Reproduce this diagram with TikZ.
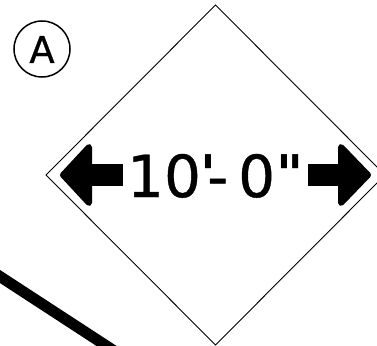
\documentclass[tikz,border=0pt]{standalone}
\usepackage{fontspec}
\newfontfamily\dimfont{DejaVu Sans}[Ligatures=NoCommon,FakeBold=0.7]
\newfontfamily\markfont{DejaVu Sans Bold}[Ligatures=NoCommon]
\tikzset{
    dimtext/.style={inner sep=0pt, font=\dimfont\fontsize{58}{58}\selectfont},
    marktext/.style={inner sep=0pt, font=\markfont\fontsize{52}{52}\selectfont},
    dimhead/.style={draw=black, fill=black, line width=6pt, line join=round},
}
\begin{document}
\begin{tikzpicture}[x=1pt,y=-1pt]
    \useasboundingbox (0,0) rectangle (377,345);
    \clip (0,0) rectangle (377,345);

    \pgfmathsetmacro{\midy}{175}

    \draw[black, line width=0.9pt] (46,\midy) -- (215.5,5) -- (385,\midy) -- (215.5,345) -- cycle;

    % heavy line, lower left
    \draw[black, line width=11pt] (-10,270) -- (125,358);

    % tag
    \node[draw=black, circle, line width=1.5pt, minimum size=56pt, inner sep=0pt] (tagA) at (42,49) {};
    \node[inner sep=0pt, font=\dimfont\fontsize{37}{37}\selectfont] (tagtext) at (42,49.5) {A};

    % arrows
    \draw[dimhead] (89,147) -- (63,\midy) -- (89,203) -- cycle;
    \fill[black] (85,164) rectangle (123,186);
    \draw[dimhead] (341,147) -- (368,\midy) -- (341,203) -- cycle;
    \fill[black] (308,164) rectangle (345,186);

    % dimension text
    \node[dimtext, anchor=base west] (feet) at (127,197) {10};
    \node[marktext, anchor=base west] (mark) at (200,192) {\char"0027};
    \node[dimtext, anchor=base west] (dash) at (207,197) {-};
    \node[dimtext, anchor=base west] (inch) at (238,197) {0};
    \node[marktext, anchor=base west] (quote) at (276,192) {"};
\end{tikzpicture}
\end{document}
